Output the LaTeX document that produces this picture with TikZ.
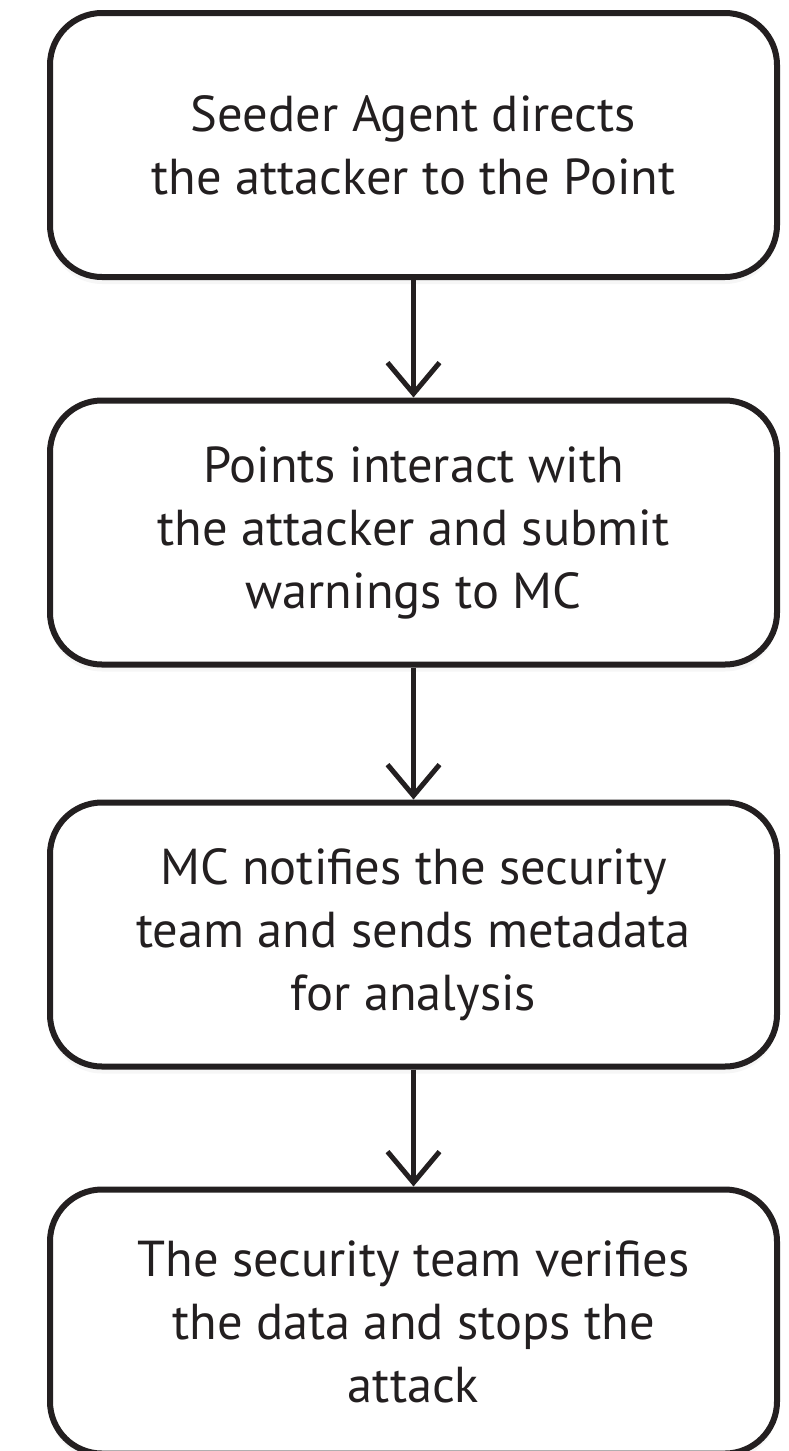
\documentclass[tikz,border=0pt]{standalone}
\usepackage{fontspec}
\setmainfont{PT Sans}
\usetikzlibrary{arrows.meta,shadows}
\definecolor{ink}{HTML}{231F20}

\begin{document}
\begin{tikzpicture}
    [
    x=1pt,y=1pt,
    stepbox/.style={draw=ink,line width=6pt,rounded corners=52pt,fill=white,
      minimum width=727pt,minimum height=264pt,inner sep=0pt,align=center,
      text=ink,font=\fontsize{50.5}{63}\selectfont,
      drop shadow={opacity=0.07,shadow xshift=0pt,shadow yshift=-7pt}},
    flow/.style={draw=ink,line width=4.5pt,
      -{Straight Barb[length=31pt,width=52pt,line width=5pt]}}
    ]
    \useasboundingbox (0,0) rectangle (788,-1451);
    \node (seeder) at (413.5,-145) [stepbox] {Seeder Agent directs\\the attacker to the Point};
    \node (points) at (413.5,-532.5) [stepbox] {Points interact with\\the attacker and submit\\warnings to MC};
    \node (notify) at (413.5,-934.5) [stepbox] {MC notifies the security\\team and sends metadata\\for analysis};
    \node (verify) at (413.5,-1321.5) [stepbox] {The security team verifies\\the data and stops the\\attack};
    \draw [flow] (seeder) to (points);
    \draw [flow] (points) to (notify);
    \draw [flow] (notify) to (verify);
  \end{tikzpicture}
\end{document}
